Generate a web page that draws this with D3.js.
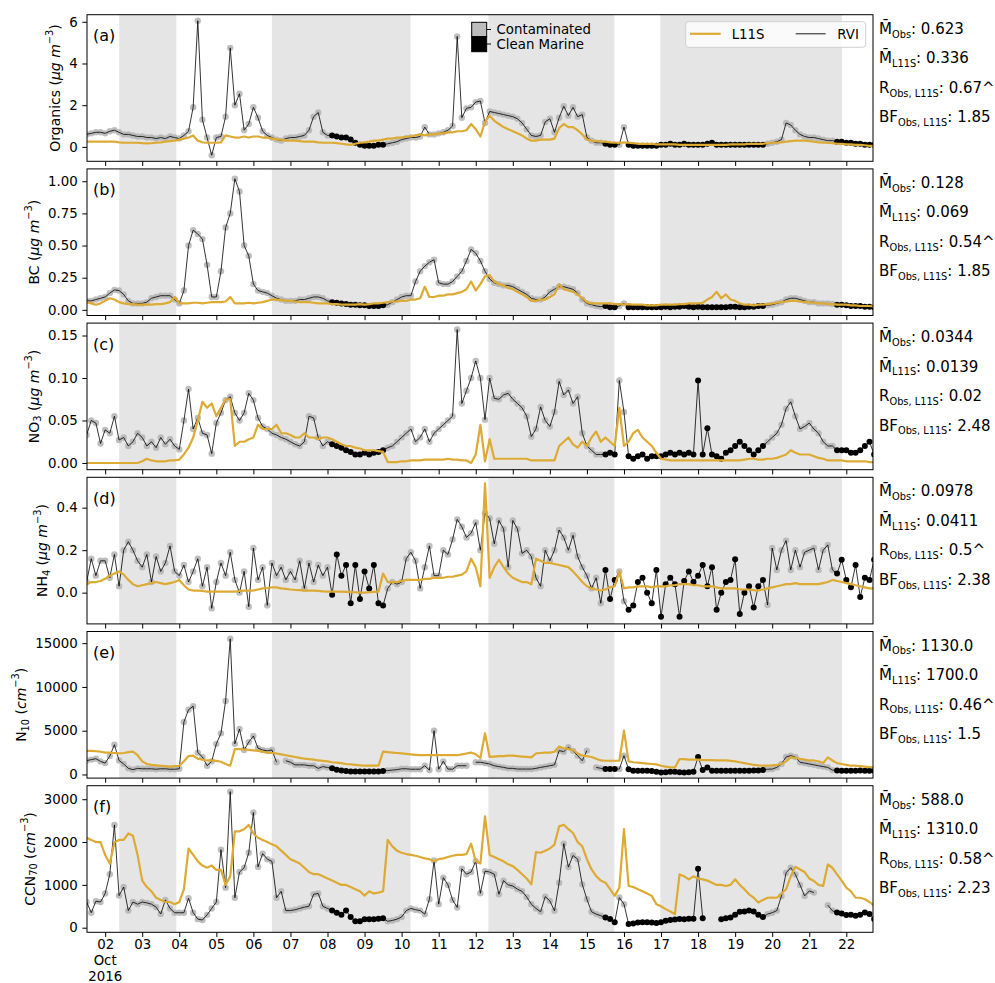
<!DOCTYPE html>
<html>
<head>
<meta charset="utf-8">
<script src="https://cdn.jsdelivr.net/npm/d3@7"></script>
<style>
  body { margin: 0; background: #fff; }
  text { font-family: "DejaVu Sans", sans-serif; }
</style>
</head>
<body>
<svg id="svg" width="995" height="983"></svg>
<script>
// values every 3 h, from Oct 1.5 to Oct 22.75 (first row: 1.5-1.875, then one row per day)
const startDay = 1.5
const stepDay = 0.125

const orgObs = [0.6, 0.65, 0.7, 0.7,
  0.65, 0.75, 0.8, 0.7, 0.6, 0.6, 0.55, 0.5,
  0.5, 0.45, 0.45, 0.4, 0.45, 0.4, 0.5, 0.45,
  0.4, 0.55, 0.75, 1.9, 6.05, 1.3, 0.45, -0.4,
  0.45, 0.5, 1.45, 4.75, 2.0, 2.55, 0.8, 1.1,
  1.9, 1.4, 0.75, 0.55, 0.45, 0.35, 0.3, 0.4,
  0.45, 0.45, 0.5, 0.55, 0.8, 1.45, 1.65, 0.7,
  0.55, 0.55, 0.5, 0.45, 0.45, 0.35, 0.2, 0.1,
  0.05, 0.05, 0.05, 0.1, 0.1, 0.15, 0.2, 0.25,
  0.35, 0.4, 0.45, 0.45, 0.5, 0.95, 0.6, 0.6,
  0.65, 0.7, 0.8, 1.0, 5.3, 1.4, 1.85, 1.9,
  2.15, 2.2, 1.15, 1.7, 1.65, 1.6, 1.55, 1.5,
  1.45, 1.35, 1.15, 0.85, 0.55, 0.5, 0.55, 1.2,
  1.35, 0.7, 1.4, 1.95, 1.5, 1.9, 1.45, 1.55,
  0.45, 0.3, 0.2, 0.2, 0.15, 0.1, 0.1, 0.1,
  0.95, 0.1, 0.05, 0.05, 0.05, 0.05, 0.05, 0.05,
  0.1, 0.1, 0.15, 0.1, 0.1, 0.15, 0.1, 0.1,
  0.1, 0.1, 0.15, 0.2, 0.1, 0.1, 0.1, 0.1,
  0.1, 0.1, 0.1, 0.1, 0.1, 0.1, 0.1, 0.15,
  0.2, 0.25, 0.35, 1.15, 1.05, 0.8, 0.6, 0.5,
  0.45, 0.45, 0.4, 0.35, 0.3, 0.3, 0.25, 0.25,
  0.2, 0.2, 0.15, 0.15, 0.1, 0.1, 0.1]
const orgMod = [0.25, 0.25, 0.25, 0.25,
  0.25, 0.25, 0.25, 0.22, 0.2, 0.2, 0.2, 0.2,
  0.18, 0.17, 0.18, 0.2, 0.22, 0.25, 0.28, 0.3,
  0.35, 0.4, 0.45, 0.55, 0.3, 0.22, 0.2, 0.2,
  0.2, 0.22, 0.55, 0.5, 0.45, 0.45, 0.5, 0.45,
  0.5, 0.5, 0.45, 0.45, 0.4, 0.35, 0.35, 0.3,
  0.3, 0.3, 0.28, 0.25, 0.25, 0.25, 0.22, 0.2,
  0.2, 0.2, 0.18, 0.15, 0.12, 0.1, 0.15, 0.2,
  0.22, 0.25, 0.3, 0.3, 0.35, 0.4, 0.4, 0.45,
  0.45, 0.5, 0.5, 0.55, 0.6, 0.55, 0.6, 0.6,
  0.65, 0.65, 0.7, 0.7, 0.75, 0.75, 0.8, 1.1,
  0.85, 0.5, 1.2, 1.5, 1.25, 1.1, 0.95, 0.85,
  0.75, 0.65, 0.55, 0.4, 0.3, 0.3, 0.35, 0.35,
  0.35, 0.4, 0.9, 1.1, 0.95, 0.95, 0.8, 0.6,
  0.35, 0.3, 0.28, 0.25, 0.25, 0.22, 0.2, 0.2,
  0.22, 0.2, 0.18, 0.15, 0.15, 0.15, 0.15, 0.12,
  0.12, 0.12, 0.12, 0.12, 0.1, 0.1, 0.1, 0.1,
  0.1, 0.1, 0.1, 0.1, 0.1, 0.1, 0.1, 0.12,
  0.12, 0.12, 0.12, 0.15, 0.15, 0.15, 0.15, 0.18,
  0.2, 0.2, 0.22, 0.25, 0.28, 0.3, 0.3, 0.3,
  0.28, 0.25, 0.22, 0.2, 0.2, 0.18, 0.15, 0.15,
  0.12, 0.12, 0.1, 0.1, 0.08, 0.05, 0.05]

const bcObs = [0.07, 0.07, 0.08, 0.09,
  0.1, 0.13, 0.155, 0.15, 0.12, 0.07, 0.05, 0.05,
  0.05, 0.06, 0.09, 0.1, 0.11, 0.11, 0.11, 0.08,
  0.05, 0.15, 0.5, 0.62, 0.59, 0.55, 0.35, 0.1,
  0.1, 0.3, 0.64, 0.75, 1.02, 0.92, 0.5, 0.42,
  0.2, 0.15, 0.14, 0.13, 0.11, 0.09, 0.08, 0.07,
  0.07, 0.07, 0.08, 0.08, 0.09, 0.1, 0.1, 0.09,
  0.07, 0.06, 0.055, 0.05, 0.045, 0.04, 0.04, 0.035,
  0.035, 0.03, 0.03, 0.03, 0.035, 0.04, 0.06, 0.08,
  0.1, 0.11, 0.11, 0.22, 0.3, 0.34, 0.37, 0.39,
  0.21, 0.2, 0.2, 0.22, 0.26, 0.3, 0.38, 0.47,
  0.44, 0.38, 0.3, 0.24, 0.21, 0.2, 0.19, 0.19,
  0.18, 0.16, 0.14, 0.12, 0.09, 0.08, 0.08, 0.1,
  0.14, 0.16, 0.18, 0.18, 0.17, 0.16, 0.13, 0.08,
  0.05, 0.04, 0.03, 0.025, 0.03, 0.02, 0.02, 0.03,
  0.05, 0.02, 0.02, 0.02, 0.02, 0.02, 0.02, 0.02,
  0.02, 0.025, 0.02, 0.025, 0.025, 0.03, 0.025, 0.02,
  0.025, 0.02, 0.02, 0.02, 0.02, 0.02, 0.02, 0.025,
  0.025, 0.02, 0.02, 0.025, 0.025, 0.03, 0.03, 0.035,
  0.04, 0.05, 0.06, 0.08, 0.09, 0.09, 0.08, 0.07,
  0.06, 0.06, 0.05, 0.05, 0.05, 0.045, 0.04, 0.04,
  0.035, 0.03, 0.03, 0.03, 0.025, 0.025, 0.02]
const bcMod = [0.06, 0.05, 0.04, 0.05,
  0.07, 0.09, 0.08, 0.06, 0.05, 0.045, 0.045, 0.04,
  0.04, 0.04, 0.04, 0.045, 0.045, 0.05, 0.06, 0.1,
  0.05, 0.05, 0.05, 0.055, 0.055, 0.05, 0.055, 0.06,
  0.06, 0.06, 0.065, 0.1, 0.05, 0.05, 0.05, 0.055,
  0.05, 0.055, 0.06, 0.07, 0.08, 0.08, 0.075, 0.07,
  0.07, 0.065, 0.06, 0.06, 0.06, 0.055, 0.05, 0.05,
  0.05, 0.045, 0.045, 0.04, 0.04, 0.04, 0.04, 0.045,
  0.04, 0.045, 0.05, 0.05, 0.055, 0.06, 0.065, 0.065,
  0.07, 0.07, 0.08, 0.08, 0.09, 0.18, 0.1, 0.1,
  0.11, 0.11, 0.12, 0.12, 0.13, 0.14, 0.16, 0.22,
  0.15, 0.2, 0.26, 0.27, 0.22, 0.2, 0.19, 0.17,
  0.16, 0.14, 0.12, 0.1, 0.07, 0.07, 0.08, 0.08,
  0.1, 0.12, 0.2, 0.16, 0.15, 0.14, 0.12, 0.09,
  0.06, 0.05, 0.05, 0.05, 0.05, 0.05, 0.045, 0.045,
  0.04, 0.045, 0.04, 0.04, 0.04, 0.035, 0.035, 0.035,
  0.04, 0.04, 0.04, 0.04, 0.045, 0.045, 0.05, 0.05,
  0.05, 0.055, 0.08, 0.1, 0.14, 0.09, 0.12, 0.08,
  0.07, 0.05, 0.04, 0.04, 0.035, 0.04, 0.04, 0.045,
  0.05, 0.055, 0.06, 0.065, 0.07, 0.07, 0.065, 0.06,
  0.06, 0.055, 0.05, 0.05, 0.045, 0.045, 0.04, 0.04,
  0.04, 0.035, 0.035, 0.03, 0.03, 0.03, 0.025]

const no3Obs = [0.033, 0.05, 0.047, 0.023,
  0.039, 0.035, 0.055, 0.027, 0.03, 0.02, 0.025, 0.035,
  0.03, 0.02, 0.025, 0.018, 0.03, 0.022, 0.028, 0.02,
  0.016, 0.05, 0.087, 0.04, 0.053, 0.035, 0.033, 0.011,
  0.047, 0.059, 0.074, 0.078, 0.059, 0.05, 0.059, 0.082,
  0.074, 0.053, 0.043, 0.04, 0.035, 0.033, 0.03, 0.028,
  0.025, 0.022, 0.02, 0.025, 0.055, 0.053, 0.03, 0.02,
  0.025, 0.022, 0.02, 0.018, 0.015, 0.013, 0.01, 0.01,
  0.012, 0.01, 0.012, 0.013, 0.015, 0.018, 0.02, 0.025,
  0.03, 0.035, 0.04, 0.025, 0.03, 0.04, 0.025, 0.035,
  0.04, 0.045, 0.05, 0.055, 0.157, 0.07, 0.085, 0.1,
  0.12, 0.1, 0.051, 0.1, 0.076, 0.075, 0.08, 0.082,
  0.075, 0.07, 0.065, 0.055, 0.031, 0.04, 0.066, 0.05,
  0.043, 0.06, 0.096, 0.08, 0.086, 0.07, 0.078, 0.035,
  0.02, 0.015, 0.01, 0.01, 0.01, 0.012, 0.01, 0.097,
  0.06, 0.008, 0.005, 0.008, 0.01, 0.005, 0.008, 0.008,
  0.008, 0.01, 0.012, 0.01, 0.012, 0.01, 0.012, 0.01,
  0.097, 0.01, 0.041, 0.01, 0.008, 0.005, 0.012, 0.015,
  0.02, 0.025, 0.02, 0.015, 0.01, 0.015, 0.02, 0.025,
  0.03, 0.035, 0.045, 0.064, 0.072, 0.055, 0.04, 0.043,
  0.047, 0.04, 0.035, 0.025, 0.02, 0.02, 0.015, 0.015,
  0.015, 0.012, 0.012, 0.015, 0.02, 0.025, 0.01]
const no3Mod = [0.0, 0.0, 0.0, 0.0,
  0.0, 0.0, 0.0, 0.0, 0.0, 0.0, 0.0, 0.0,
  0.002, 0.005, 0.003, 0.002, 0.002, 0.002, 0.003, 0.003,
  0.004, 0.01, 0.018, 0.03, 0.05, 0.072, 0.065, 0.07,
  0.055, 0.065, 0.075, 0.075, 0.02, 0.025, 0.025, 0.028,
  0.03, 0.045, 0.04, 0.04, 0.04, 0.045, 0.035, 0.035,
  0.033, 0.03, 0.03, 0.035, 0.03, 0.03, 0.028, 0.03,
  0.03, 0.028, 0.025, 0.022, 0.02, 0.02, 0.018, 0.017,
  0.015, 0.015, 0.015, 0.014, 0.013, 0.001, 0.001, 0.001,
  0.002, 0.002, 0.003, 0.003, 0.003, 0.004, 0.004, 0.004,
  0.004, 0.004, 0.005, 0.004, 0.004, 0.003, 0.003, 0.0,
  0.01, 0.045, 0.002, 0.028, 0.005, 0.005, 0.005, 0.005,
  0.005, 0.005, 0.005, 0.005, 0.003, 0.003, 0.003, 0.003,
  0.003, 0.003, 0.02, 0.025, 0.03, 0.022, 0.018, 0.025,
  0.02, 0.03, 0.037, 0.025, 0.03, 0.025, 0.02, 0.065,
  0.02, 0.025, 0.035, 0.039, 0.03, 0.025, 0.02, 0.012,
  0.005, 0.004, 0.003, 0.003, 0.003, 0.003, 0.003, 0.003,
  0.003, 0.003, 0.003, 0.003, 0.003, 0.003, 0.003, 0.003,
  0.003, 0.003, 0.004, 0.005, 0.005, 0.004, 0.004, 0.005,
  0.005, 0.006, 0.008, 0.01, 0.015, 0.012, 0.01, 0.01,
  0.01, 0.008, 0.006, 0.005, 0.003, 0.003, 0.003, 0.003,
  0.002, 0.002, 0.002, 0.002, 0.002, 0.001, 0.001]

const nh4Obs = [0.05, 0.16, 0.08, 0.15,
  0.15, 0.07, 0.18, 0.03, 0.2, 0.24, 0.2, 0.15,
  0.12, 0.18, 0.05, 0.17, 0.1, 0.14, 0.22, 0.1,
  0.08, 0.13, 0.05, 0.1, 0.16, 0.03, 0.12, -0.074,
  0.05, 0.14, 0.08, 0.19, 0.06, 0.0, 0.1, -0.066,
  0.21, 0.06, 0.12, -0.06, 0.14, 0.08, 0.12, 0.06,
  0.1, 0.06, 0.15, 0.02, 0.14, 0.05, 0.13, 0.08,
  0.12, -0.01, 0.18, 0.08, 0.13, -0.05, 0.13, -0.03,
  0.1, 0.02, 0.13, -0.05, -0.06, 0.02, 0.05, 0.04,
  0.05, 0.16, 0.19, 0.15, 0.02, 0.12, 0.22, 0.08,
  0.08, 0.2, 0.18, 0.25, 0.345, 0.31, 0.26, 0.28,
  0.33, 0.2, 0.374, 0.35, 0.23, 0.34, 0.3, 0.12,
  0.34, 0.3, 0.185, 0.2, 0.17, 0.07, 0.03, 0.2,
  0.15, 0.2, 0.295, 0.26, 0.2, 0.27, 0.17, 0.12,
  0.08, 0.02, 0.07, -0.05, 0.107, -0.03, 0.06, 0.1,
  -0.04, -0.08, -0.06, 0.05, 0.07, 0.0, -0.05, 0.107,
  -0.113, 0.04, 0.07, 0.04, -0.113, 0.055, 0.1, 0.05,
  0.08, 0.13, 0.03, 0.12, -0.08, 0.0, 0.05, 0.06,
  0.157, -0.1, 0.0, 0.03, -0.07, 0.03, 0.06, -0.058,
  0.21, 0.107, 0.2, 0.245, 0.107, 0.2, 0.12, 0.19,
  0.2, 0.21, 0.107, 0.2, 0.225, 0.107, 0.09, 0.155,
  0.06, 0.025, 0.13, -0.02, 0.07, 0.06, 0.155]
const nh4Mod = [0.04, 0.05, 0.05, 0.055,
  0.065, 0.08, 0.09, 0.1, 0.085, 0.06, 0.04, 0.03,
  0.035, 0.04, 0.045, 0.05, 0.045, 0.04, 0.045, 0.05,
  0.06, 0.035, 0.015, 0.01, 0.01, 0.008, 0.005, 0.005,
  0.005, 0.005, 0.005, 0.005, 0.005, 0.008, 0.01, 0.01,
  0.01, 0.015, 0.02, 0.022, 0.025, 0.025, 0.02, 0.018,
  0.015, 0.013, 0.012, 0.01, 0.01, 0.01, 0.008, 0.006,
  0.005, 0.005, 0.005, 0.005, 0.004, 0.003, 0.002, 0.0,
  0.0, 0.002, 0.004, 0.005, 0.09, 0.05, 0.05, 0.05,
  0.055, 0.06, 0.06, 0.06, 0.06, 0.065, 0.065, 0.07,
  0.07, 0.07, 0.075, 0.075, 0.08, 0.085, 0.1, 0.16,
  0.12, 0.03, 0.515, 0.07, 0.12, 0.155, 0.12, 0.09,
  0.07, 0.06, 0.05, 0.05, 0.04, 0.16, 0.15, 0.14,
  0.14, 0.135, 0.13, 0.125, 0.12, 0.1, 0.076, 0.05,
  0.03, 0.02, 0.015, 0.01, 0.015, 0.025, 0.03, 0.1,
  0.02, 0.025, 0.025, 0.03, 0.03, 0.03, 0.025, 0.03,
  0.03, 0.03, 0.035, 0.035, 0.04, 0.04, 0.04, 0.035,
  0.035, 0.03, 0.03, 0.03, 0.025, 0.02, 0.02, 0.02,
  0.02, 0.015, 0.015, 0.015, 0.012, 0.01, 0.015, 0.02,
  0.025, 0.03, 0.035, 0.04, 0.04, 0.045, 0.04, 0.04,
  0.04, 0.04, 0.04, 0.045, 0.05, 0.06, 0.055, 0.05,
  0.045, 0.04, 0.035, 0.03, 0.025, 0.02, 0.02]

const n10Obs = [1570, 1700, 1800, 1500,
  1300, 2100, 3400, 1600, 1200, 700, 550, 700,
  650, 650, 650, 600, 650, 650, 600, 600,
  650, 6000, 7400, 7800, 2500, 2000, 1000, 1500,
  3500, 4700, 8400, 15500, 3500, 5200, 2800, 3700,
  4400, 3000, 2800, 2700, 2800, 1400, null, 1570,
  1400, 1100, 1100, 1100, 1000, 1000, 700, 900,
  800, 700, 550, 450, 400, 350, 350, 350,
  350, 350, 350, 350, 400, 450, 500, 550,
  650, 650, 600, 600, 600, 1000, 500, 5000,
  600, 1500, 620, 600, 1000, 1000, 1000, null,
  1390, 1400, 1300, 1200, 1000, 900, 810, 700,
  700, 620, 620, 620, 620, 700, 810, 900,
  1000, 1100, 2730, 2600, 3110, 2700, 2150, 1570,
  2730, null, 810, 700, 620, 620, 620, 620,
  2150, 600, 430, 430, 430, 430, 400, 300,
  230, 250, 300, 300, 250, 230, 250, 300,
  2000, 500, 810, 430, 430, 430, 430, 430,
  430, 430, 430, 430, 450, 450, 500, 600,
  620, 810, 1200, 2000, 2150, 2000, 1390, 1300,
  1200, 1100, 1000, 900, 810, 500, 450, 430,
  430, 430, 430, 450, 430, 430, 430]
const n10Mod = [2700, 2700, 2650, 2600,
  2500, 2500, 2450, 2400, 2450, 2550, 2600, 2200,
  1500, 1200, 1100, 1050, 1000, 950, 900, 950,
  1000, 1500, 2100, 2150, 1800, 1700, 1600, 1600,
  1550, 1450, 1200, 1000, 2900, 2900, 2850, 2800,
  2750, 2700, 2600, 2500, 2450, 2400, 2300, 2200,
  2100, 2000, 1900, 1800, 1750, 1700, 1600, 1550,
  1500, 1400, 1350, 1300, 1200, 1150, 1100, 1050,
  1000, 1000, 1000, 1000, 2600, 2550, 2500, 2450,
  2400, 2350, 2300, 2250, 2200, 2200, 2200, 2200,
  2200, 2200, 2200, 2200, 2200, 2300, 2400, 2500,
  2300, 1900, 4700, 2000, 2050, 2100, 2100, 2150,
  2150, 2100, 2050, 2000, 1950, 2400, 2450, 2500,
  2500, 2600, 3200, 3000, 2900, 2800, 2400, 2150,
  2100, 2000, 1800, 1600, 1570, 1570, 1570, 1570,
  5000, 1500, 1400, 1350, 1300, 1250, 1200, 1150,
  1000, 900, 810, 800, 1760, 1760, 1700, 1700,
  1700, 1650, 1650, 1650, 1600, 1600, 1600, 1550,
  1500, 1400, 1300, 1200, 1100, 1050, 1000, 1000,
  1050, 1100, 1200, 1500, 1950, 1900, 1800, 1700,
  1600, 1600, 1500, 1300, 1950, 1600, 1300, 1200,
  1100, 1000, 1000, 950, 900, 850, 800]

const ccnObs = [600, 350, 620, 600,
  800, 1250, 2400, 750, 950, 400, 600, 550,
  600, 580, 550, 480, 320, 650, 450, 350,
  350, 350, 690, 350, 200, 180, 300, 450,
  600, 1820, 935, 3177, 700, 1300, 1400, 1750,
  2690, 1420, 1730, 1600, 1550, 700, 850, 400,
  400, 420, 450, 480, 500, 780, 800, 500,
  450, 400, 350, 300, 400, 250, 150, 150,
  200, 200, 200, 210, 220, 150, 170, 200,
  250, 400, 450, 420, 400, 317, 665, 1570,
  550, 1170, 1000, 650, 473, 1377, 1250, 1300,
  1554, 805, 1322, 1300, 1250, 782, 1100, 1000,
  975, 900, 850, 720, 550, 450, 372, 727,
  627, 395, 1052, 1964, 1415, 1686, 1600, 1013,
  665, 372, 318, 279, 240, 202, 125, 704,
  550, 86, 100, 120, 130, 130, 120, 110,
  130, 163, 180, 190, 202, 200, 210, 210,
  1377, 220, null, null, null, 200, 220, 240,
  300, 372, 380, 400, 380, 300, 250, 318,
  350, 400, 743, 1284, 1400, 1245, 1000, 743,
  859, 820, null, null, 527, 395, 357, 330,
  295, 300, 280, 300, 357, 320, 202]
const ccnMod = [2100, 2050, 2000, 2000,
  1700, 1500, 1995, 2050, 2050, 2200, 2150, 1700,
  1100, 950, 850, 700, 650, 600, 600, 550,
  600, 900, 1850, 1700, 1550, 1450, 1400, 1450,
  1350, 1350, 1000, 1200, 2250, 2250, 2300, 2400,
  2200, 2100, 2050, 2000, 1950, 1900, 1800, 1700,
  1600, 1550, 1500, 1400, 1300, 1250, 1250, 1200,
  1150, 1100, 1050, 1000, 1000, 950, 900, 850,
  750, 850, 800, 820, 850, 2050, 1900, 1800,
  1750, 1720, 1700, 1680, 1650, 1620, 1600, 1550,
  1600, 1620, 1650, 1680, 1700, 1700, 1720, 1963,
  1550, 1500, 2600, 1700, 1650, 1600, 1550, 1480,
  1438, 1350, 1250, 1150, 1013, 1763, 1750, 1800,
  1850, 1941, 2366, 2404, 2300, 2211, 2000, 1902,
  1600, 1361, 1207, 1100, 1052, 900, 743, 936,
  2304, 975, 950, 900, 850, 800, 743, 550,
  500, 434, 380, 318, 1245, 1200, 1130, 1200,
  1150, 1130, 1100, 1050, 1000, 1000, 975, 1000,
  1130, 1000, 900, 781, 700, 588, 650, 700,
  704, 700, 800, 897, 1200, 1423, 1361, 1300,
  1150, 1091, 1000, 975, 1477, 1400, 1245, 1100,
  936, 850, 704, 700, 665, 600, 511]

// day ranges flagged as clean marine, shaded periods, and stats text
const cleanMarine = [[8.07, 9.55], [15.4, 15.85], [16.05, 19.8], [21.7, 22.8]]
const shaded = [[2.38, 3.92], [6.5, 10.24], [12.34, 15.74], [16.98, 21.88]]
const meanObs = ['0.623', '0.128', '0.0344', '0.0978', '1130.0', '588.0']
const meanMod = ['0.336', '0.069', '0.0139', '0.0411', '1700.0', '1310.0']
const corrObsMod = ['0.67^', '0.54^', '0.02', '0.5^', '0.46^', '0.58^']
const biasObsMod = ['1.85', '1.85', '2.48', '2.38', '1.5', '2.23']
const dayTicks = d3.range(2, 23)

const panels = [
  { tag: '(a)', obs: orgObs, mod: orgMod, domain: [-0.69, 6.34], ticks: [0, 2, 4, 6], fmt: d3.format('d'),
    label: [{ t: 'Organics (' }, { t: 'μg m', it: true }, { t: '−3', sup: true }, { t: ')' }] },
  { tag: '(b)', obs: bcObs, mod: bcMod, domain: [-0.044, 1.096], ticks: [0, 0.25, 0.5, 0.75, 1], fmt: d3.format('.2f'),
    label: [{ t: 'BC (' }, { t: 'μg m', it: true }, { t: '−3', sup: true }, { t: ')' }] },
  { tag: '(c)', obs: no3Obs, mod: no3Mod, domain: [-0.0079, 0.1646], ticks: [0, 0.05, 0.1, 0.15], fmt: d3.format('.2f'),
    label: [{ t: 'NO' }, { t: '3', sub: true }, { t: ' (' }, { t: 'μg m', it: true }, { t: '−3', sup: true }, { t: ')' }] },
  { tag: '(d)', obs: nh4Obs, mod: nh4Mod, domain: [-0.147, 0.543], ticks: [0, 0.2, 0.4], fmt: d3.format('.1f'),
    label: [{ t: 'NH' }, { t: '4', sub: true }, { t: ' (' }, { t: 'μg m', it: true }, { t: '−3', sup: true }, { t: ')' }] },
  { tag: '(e)', obs: n10Obs, mod: n10Mod, domain: [-414, 16333], ticks: [0, 5000, 10000, 15000], fmt: d3.format('d'),
    label: [{ t: 'N' }, { t: '10', sub: true }, { t: ' (' }, { t: 'cm', it: true }, { t: '−3', sup: true }, { t: ')' }] },
  { tag: '(f)', obs: ccnObs, mod: ccnMod, domain: [-107, 3316], ticks: [0, 1000, 2000, 3000], fmt: d3.format('d'),
    label: [{ t: 'CCN' }, { t: '70', sub: true }, { t: ' (' }, { t: 'cm', it: true }, { t: '−3', sup: true }, { t: ')' }] }
]

const svg = d3.select('#svg')
const left = 87, right = 873
const top0 = 14.7, panelStep = 154.2, panelH = 146.6
const fs = 13.33
const orange = '#DDAA33'

const x = d3.scaleLinear().domain([1.51, 22.72]).range([left, right])

const isClean = t => cleanMarine.some(r => t >= r[0] && t <= r[1])

panels.forEach((p, i) => {
  const top = top0 + i * panelStep
  const y = d3.scaleLinear().domain(p.domain).range([top + panelH, top])
  const g = svg.append('g')

  g.append('clipPath').attr('id', 'clip' + i)
    .append('rect').attr('x', left).attr('y', top).attr('width', right - left).attr('height', panelH)

  // shaded periods
  g.selectAll('.band')
    .data(shaded)
    .enter()
    .append('rect')
    .attr('x', d => x(d[0]))
    .attr('width', d => x(d[1]) - x(d[0]))
    .attr('y', top)
    .attr('height', panelH)
    .attr('fill', '#e5e5e5')

  const obsPts = p.obs.map((v, k) => ({ t: startDay + k * stepDay, v: v }))
  const modPts = p.mod.map((v, k) => ({ t: startDay + k * stepDay, v: v }))

  const plot = g.append('g').attr('clip-path', 'url(#clip' + i + ')')

  const valid = obsPts.filter(d => d.v !== null)
  plot.selectAll('.mk-dirty')
    .data(valid.filter(d => !isClean(d.t)))
    .enter()
    .append('circle')
    .attr('cx', d => x(d.t))
    .attr('cy', d => y(d.v))
    .attr('r', 3.2)
    .attr('fill', '#b3b3b3')
    .attr('fill-opacity', 0.85)

  plot.selectAll('.mk-clean')
    .data(valid.filter(d => isClean(d.t)))
    .enter()
    .append('circle')
    .attr('cx', d => x(d.t))
    .attr('cy', d => y(d.v))
    .attr('r', 3)
    .attr('fill', '#000')

  const line = d3.line()
    .defined(d => d.v !== null)
    .x(d => x(d.t))
    .y(d => y(d.v))

  plot.append('path')
    .attr('d', line(obsPts))
    .attr('fill', 'none')
    .attr('stroke', '#000')
    .attr('stroke-width', 0.8)

  plot.append('path')
    .attr('d', line(modPts))
    .attr('fill', 'none')
    .attr('stroke', orange)
    .attr('stroke-width', 2.2)
    .attr('stroke-linejoin', 'round')

  // axes
  const yAxis = g.append('g')
    .attr('transform', `translate(${left},0)`)
    .call(d3.axisLeft(y).tickValues(p.ticks).tickFormat(p.fmt).tickSize(4.67).tickPadding(4.67))
  const xAxis = g.append('g')
    .attr('transform', `translate(0,${top + panelH})`)
    .call(d3.axisBottom(x).tickValues(dayTicks).tickSize(4.67).tickPadding(2.5)
      .tickFormat(i === panels.length - 1 ? (d => d3.format('02d')(d)) : ''))
  ;[yAxis, xAxis].forEach(a => {
    a.select('.domain').remove()
    a.selectAll('line').attr('stroke', '#000').attr('stroke-width', 1)
    a.selectAll('text').attr('font-size', fs).attr('fill', '#000')
      .attr('font-family', '"DejaVu Sans", sans-serif')
  })

  g.append('rect')
    .attr('x', left).attr('y', top)
    .attr('width', right - left).attr('height', panelH)
    .attr('fill', 'none').attr('stroke', '#000').attr('stroke-width', 1)

  // y label placed left of the widest tick label
  let wMax = 0
  yAxis.selectAll('text').each(function() { wMax = Math.max(wMax, this.getComputedTextLength()) })
  const lx = left - 9.33 - wMax - 5.3 - 8.8
  const ly = top + panelH / 2
  const lab = g.append('text')
    .attr('transform', `translate(${lx},${ly}) rotate(-90)`)
    .attr('text-anchor', 'middle')
    .attr('dominant-baseline', 'central')
    .attr('font-size', 14)
  let shift = 0
  p.label.forEach(part => {
    const target = part.sup ? -5.8 : part.sub ? 3.6 : 0
    lab.append('tspan')
      .attr('dy', target - shift)
      .attr('font-size', part.sup || part.sub ? 9.8 : 14)
      .attr('font-style', part.it ? 'italic' : 'normal')
      .text(part.t)
    shift = target
  })

  g.append('text')
    .attr('x', left + 6)
    .attr('y', top + 21)
    .attr('dominant-baseline', 'central')
    .attr('font-size', 16)
    .text(p.tag)

  // stats on the right
  const stats = [
    ['M\u0304', 'Obs', meanObs[i]],
    ['M\u0304', 'L11S', meanMod[i]],
    ['R', 'Obs, L11S', corrObsMod[i]],
    ['BF', 'Obs, L11S', biasObsMod[i]]
  ]
  stats.forEach((s, k) => {
    const tx = g.append('text')
      .attr('x', 879)
      .attr('y', top + 19 + k * 29.5)
      .attr('font-size', 15)
    tx.append('tspan').text(s[0])
    tx.append('tspan').attr('font-size', 9.8).attr('dy', 3.8).text(s[1])
    tx.append('tspan').attr('dy', -3.8).text(': ' + s[2])
  })
})

// date lines under the first tick
const bottom = top0 + 5 * panelStep + panelH
svg.append('text').attr('x', x(2)).attr('y', bottom + 32.8).attr('text-anchor', 'middle')
  .attr('font-size', fs).text('Oct')
svg.append('text').attr('x', x(2)).attr('y', bottom + 48.6).attr('text-anchor', 'middle')
  .attr('font-size', fs).text('2016')

// marker legend
const lg = svg.append('g')
lg.append('rect').attr('x', 471.7).attr('y', 22.3).attr('width', 15).attr('height', 14.4)
  .attr('fill', '#bdbdbd').attr('stroke', '#000').attr('stroke-width', 1)
lg.append('rect').attr('x', 471.7).attr('y', 36.7).attr('width', 15).attr('height', 15)
  .attr('fill', '#000').attr('stroke', '#000').attr('stroke-width', 1)
;[['Contaminated', 29.5], ['Clean Marine', 44]].forEach(d => {
  lg.append('line').attr('x1', 487).attr('x2', 491).attr('y1', d[1]).attr('y2', d[1])
    .attr('stroke', '#000').attr('stroke-width', 1)
  lg.append('text').attr('x', 496.5).attr('y', d[1]).attr('dominant-baseline', 'central')
    .attr('font-size', fs).text(d[0])
})

// line legend
const ll = svg.append('g')
ll.append('rect').attr('x', 685.7).attr('y', 21.7).attr('width', 180).attr('height', 25.6)
  .attr('rx', 3).attr('fill', '#fff').attr('fill-opacity', 0.8).attr('stroke', '#d0d0d0')
ll.append('line').attr('x1', 690).attr('x2', 720.7).attr('y1', 33.8).attr('y2', 33.8)
  .attr('stroke', orange).attr('stroke-width', 2.2)
ll.append('text').attr('x', 731.7).attr('y', 34.3).attr('dominant-baseline', 'central')
  .attr('font-size', fs).text('L11S')
ll.append('line').attr('x1', 795.7).attr('x2', 825.7).attr('y1', 33.8).attr('y2', 33.8)
  .attr('stroke', '#000').attr('stroke-width', 0.9)
ll.append('text').attr('x', 837.3).attr('y', 34.3).attr('dominant-baseline', 'central')
  .attr('font-size', fs).text('RVI')
</script>
</body>
</html>
